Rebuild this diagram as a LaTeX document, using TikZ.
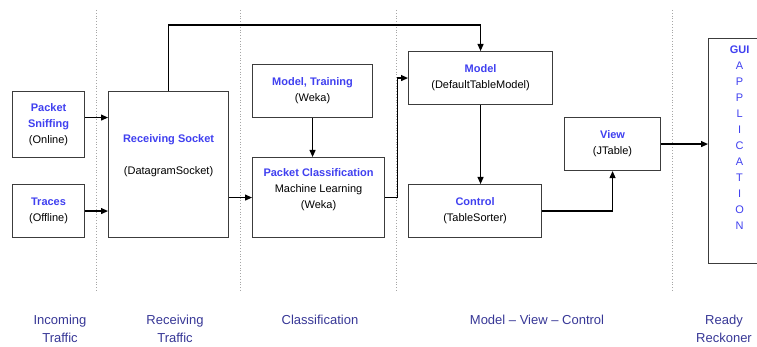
\documentclass[tikz,border=0pt]{standalone}
\usepackage{fontspec}
\setmainfont{Liberation Sans}
\usepackage{tikz}
\usetikzlibrary{positioning,arrows.meta,calc}
\definecolor{ttlblue}{RGB}{64,64,240}
\definecolor{capblue}{RGB}{55,55,150}
\definecolor{boxgray}{RGB}{60,60,60}
\newcommand{\blkttl}[1]{\textcolor{ttlblue}{\bfseries #1}}
\tikzset{
  blk/.style={draw=boxgray, line width=1.1pt, fill=white, align=center, inner sep=2pt,
              font=\fontsize{11}{16}\selectfont, anchor=north west},
  flow/.style={-{Triangle[length=7pt,width=6pt]}, line width=1.1pt, black},
  sep/.style={gray!70, dotted, line width=0.8pt},
  stagecap/.style={font=\fontsize{13}{18}\selectfont, text=capblue, align=center}
}

\begin{document}
\begin{tikzpicture}[x=1pt, y=-1pt]
\useasboundingbox (0,0) rectangle (757,347);
% stage separators
\foreach \sx in {96,240,396,672}
  \draw[sep] (\sx,10) -- (\sx,292);
% boxes
\node[blk, minimum width=72pt, minimum height=66pt] (sniff) at (12,91) {\blkttl{Packet}\\\blkttl{Sniffing}\\(Online)};
\node[blk, minimum width=72pt, minimum height=53pt] (traces) at (12,184) {\blkttl{Traces}\\(Offline)};
\node[blk, minimum width=120pt, minimum height=146pt, text depth=20pt] (recv) at (108,91) {\blkttl{Receiving Socket}\\[16pt](DatagramSocket)};
\node[blk, minimum width=120pt, minimum height=53pt] (mtrain) at (252,64) {\blkttl{Model, Training}\\(Weka)};
\node[blk, minimum width=132pt, minimum height=80pt, text depth=19pt] (pclass) at (252,157) {\blkttl{Packet Classification}\\Machine Learning\\(Weka)};
\node[blk, minimum width=144pt, minimum height=53pt] (model) at (408,51) {\blkttl{Model}\\(DefaultTableModel)};
\node[blk, minimum width=133pt, minimum height=53pt] (control) at (408,184) {\blkttl{Control}\\(TableSorter)};
\node[blk, minimum width=96pt, minimum height=53pt] (view) at (564,117) {\blkttl{View}\\(JTable)};
\node[blk, minimum width=62pt, minimum height=225pt, text depth=26pt, text=ttlblue] (gui) at (708,38)
  {\blkttl{GUI}\\A\\P\\P\\L\\I\\C\\A\\T\\I\\O\\N};
% connectors
\coordinate (sniffout) at ([yshift=7pt]sniff.east);
\draw[flow] (sniffout) -- (sniffout -| recv.west);
\draw[flow] (traces.east) -- (traces.east -| recv.west);
\draw[flow] (recv.east |- pclass.west) -- (pclass.west);
\draw[flow] (recv.north) -- ++(0,-66) -| (model.north);
\draw[flow] (mtrain.south) -- (mtrain.south |- pclass.north);
\draw[flow] (pclass.east) -- ++(12,0) |- (model.west);
\draw[flow] (model.south) -- (model.south |- control.north);
\draw[flow] (control.east) -| (view.south);
\draw[flow] (view.east) -- (view.east -| gui.west);
% stage captions
\node[stagecap] (capin) at (60,329) {Incoming\\Traffic};
\node[stagecap] (caprecv) at (175,329) {Receiving\\Traffic};
\node[stagecap] (capcls) at (320,320) {Classification};
\node[stagecap] (capmvc) at (537,320) {Model -- View -- Control};
\node[stagecap] (capready) at (724,329) {Ready\\Reckoner};
\end{tikzpicture}
\end{document}
